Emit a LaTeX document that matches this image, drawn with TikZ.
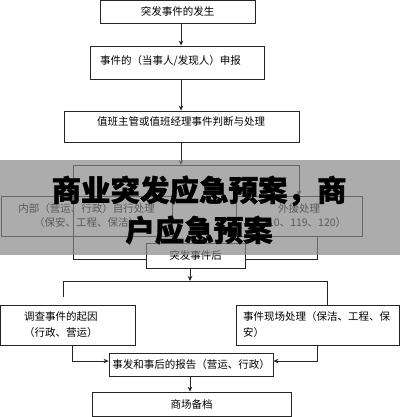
\documentclass[tikz,border=0pt]{standalone}
\usepackage{fontspec}
\newfontfamily\cjk{Noto Sans CJK SC}
\newfontfamily\cjkheavy[BoldFeatures={FakeBold=1.2}]{Noto Sans CJK SC}
\usetikzlibrary{arrows.meta}
\begin{document}
\begin{tikzpicture}[x=1pt,y=-1pt,
  box/.style={draw=black!85, line width=0.8pt, inner sep=0pt, align=center,
    font=\cjk\fontsize{10.5}{14}\selectfont},
  txt/.style={inner sep=0pt, align=left, font=\cjk\fontsize{10.5}{16}\selectfont},
  conn/.style={draw=black!85, line width=0.8pt},
  arr/.style={conn, -{Stealth[length=5pt,width=4.5pt]}},
  band/.style={fill=black!48, fill opacity=0.68, draw=none},
  title/.style={inner sep=0pt, align=center, text=black,
    font=\cjkheavy\bfseries\fontsize{29.5}{40}\selectfont}]
\useasboundingbox (0,0) rectangle (400,417);
\fill[white] (0,0) rectangle (400,417);
% top chain
\node[box, minimum width=155pt, minimum height=23pt] (b1) at (177.5,11.5) {突发事件的发生};
\node[box, minimum width=174pt, minimum height=33pt] (b2) at (177,62.5) {};
\node[txt, anchor=west] (t2) at (100,61) {事件的（当事人/发现人）申报};
\node[box, minimum width=235pt, minimum height=31pt] (b3) at (181.5,126.5) {};
\node[txt] (t3) at (181,122) {值班主管或值班经理事件判断与处理};
\coordinate (ax) at (181,0);
\draw[arr] (b1.south -| ax) -- (b2.north -| ax);
\draw[arr] (b2.south -| ax) -- (b3.north -| ax);
% split
\coordinate (jt) at (181,165);
\coordinate (jl) at (73,165);
\coordinate (jr) at (299,165);
\draw[arr] (b3.south -| ax) -- (jt);
\node[box, minimum width=171pt, minimum height=40pt] (L) at (86.5,216) {内部（营运、行政）自行处理\\（保安、工程、保洁）};
\node[box, minimum width=126pt, minimum height=40pt] (R) at (299,216) {外援处理\\（110、119、120）};
\node[box, minimum width=99pt, minimum height=25pt] (A) at (195.5,255.5) {突发事件后};
\coordinate (cl) at (73,259);
\coordinate (cr) at (317,259);
\draw[conn] (jl) -- (jr);
\draw[arr] (jr) -- (R.north -| jr);
\draw[conn] (jl) -- (cl) -- (cl -| A.west);
\draw[conn] (R.south -| cr) -- (cr) -- (cr -| A.east);
% second split
\coordinate (bx) at (190,0);
\coordinate (kt) at (190,281);
\coordinate (kl) at (63,281);
\coordinate (kr) at (327,281);
\coordinate (kle) at (63,297);
\draw[arr] (A.south -| bx) -- (kt);
\node[box, minimum width=135pt, minimum height=40pt] (P) at (67.5,325) {};
\node[txt, anchor=west] (tp) at (24,325) {调查事件的起因\\（行政、营运）};
\node[box, minimum width=163pt, minimum height=40pt] (Q) at (317.5,325) {};
\node[txt, anchor=west] (tq) at (243,325) {事件现场处理（保洁、工程、保\\安）};
\draw[conn] (kle) -- (kl) -- (kr) -- (Q.north -| kr);
\node[box, minimum width=164pt, minimum height=23pt] (Rp) at (191,364.5) {事发和事后的报告（营运、行政）};
\coordinate (ml) at (72,361);
\coordinate (mr) at (317,361);
\draw[arr] (P.south -| ml) -- (ml) -- (ml -| Rp.west);
\draw[arr] (Q.south -| mr) -- (mr) -- (mr -| Rp.east);
\node[box, minimum width=199pt, minimum height=24pt] (S) at (191.5,404) {商场备档};
\draw[arr] (Rp.south -| bx) -- (S.north -| bx);
% overlay band and title
\fill[band] (0,160) rectangle (400,255);
\node[title] (ttl) at (199,210) {商业突发应急预案，商\\户应急预案};
\end{tikzpicture}
\end{document}
